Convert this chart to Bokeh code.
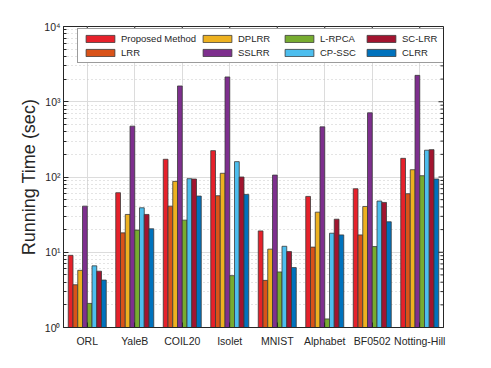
import math
from bokeh.plotting import figure
from bokeh.models import (ColumnDataSource, FactorRange, Legend, LegendItem, FixedTicker)
from bokeh.transform import dodge
from bokeh.embed import file_html
from bokeh.resources import INLINE

categories = ["ORL", "YaleB", "COIL20", "Isolet", "MNIST", "Alphabet", "BF0502", "Notting-Hill"]
methods = ["Proposed Method", "LRR", "DPLRR", "SSLRR", "L-RPCA", "CP-SSC", "SC-LRR", "CLRR"]
colors = ["#E6212B", "#D95319", "#EDB120", "#7E2F8E", "#77AC30", "#4DBEEE", "#A2142F", "#0072BD"]

proposed = [9.1, 61.8, 172, 224, 19.2, 55.2, 69.8, 177]
lrr      = [3.7, 18.1, 41, 56.4, 4.23, 11.7, 17.0, 60]
dplrr    = [5.75, 31.8, 87.5, 112, 11.0, 34.1, 40.6, 125]
sslrr    = [41, 474, 1620, 2135, 106, 464, 713, 2243]
lrpca    = [2.09, 19.7, 26.7, 4.89, 5.47, 1.3, 11.9, 104]
cpssc    = [6.6, 39, 95, 160, 12.0, 17.9, 47.9, 227]
sclrr    = [5.6, 31.8, 94, 100, 10.2, 27.5, 45.9, 231]
clrr     = [4.27, 20.5, 55.8, 58.7, 6.25, 17.0, 25.4, 94]
series = [proposed, lrr, dplrr, sslrr, lrpca, cpssc, sclrr, clrr]

yticks = [1, 10, 100, 1000, 10000]
ytick_labels = ["10\u2070", "10\u00b9", "10\u00b2", "10\u00b3", "10\u2074"]
yminor = [m * 10 ** e for e in range(0, 4) for m in range(2, 10)]

FONT = "Liberation Sans"
TXT = "#262626"

data = {"cat": categories, "bottom": [1] * len(categories)}
for i, s in enumerate(series):
    data[f"s{i}"] = s
src = ColumnDataSource(data)

p = figure(x_range=FactorRange(factors=categories), y_range=(1, 10000),
           y_axis_type="log", frame_width=380, frame_height=301,
           output_backend="svg", toolbar_location=None,
           min_border_left=63, min_border_top=26, min_border_right=28, min_border_bottom=10,
           background_fill_color="white", border_fill_color="white")
p.outline_line_color = TXT
p.outline_line_width = 1

# grids
p.xgrid.grid_line_color = "#dcdcdc"
p.xgrid.grid_line_width = 1
p.ygrid.grid_line_color = "#dcdcdc"
p.ygrid.grid_line_width = 1
p.ygrid.minor_grid_line_color = "#c8c8c8"
p.ygrid.minor_grid_line_dash = "1 3"
p.ygrid.minor_grid_line_width = 1

width = 0.1
renderers = []
for i, (m, c) in enumerate(zip(methods, colors)):
    off = (i - 3.5) * width
    r = p.vbar(x=dodge("cat", off, range=p.x_range), top=f"s{i}", bottom="bottom",
               width=width, source=src, fill_color=c, line_color="#3a3a3a", line_width=0.8)
    renderers.append(r)

ya = p.yaxis[0]
ya.ticker = FixedTicker(ticks=yticks, minor_ticks=yminor)
ya.major_label_overrides = {t: l for t, l in zip(yticks, ytick_labels)}
ya.axis_label = "Running Time (sec)"
ya.axis_label_text_font = FONT
ya.axis_label_text_font_size = "18px"
ya.axis_label_text_font_style = "normal"
ya.axis_label_text_color = TXT
ya.axis_label_standoff = 2
ya.major_label_standoff = 3
ya.major_label_text_font = FONT
ya.major_label_text_font_size = "10.5px"
ya.major_label_text_color = TXT
ya.major_tick_in = 5
ya.major_tick_out = 0
ya.minor_tick_in = 3
ya.minor_tick_out = 0
ya.axis_line_color = TXT
ya.major_tick_line_color = TXT
ya.minor_tick_line_color = TXT

xa = p.xaxis[0]
xa.major_label_text_font = FONT
xa.major_label_text_font_size = "10.5px"
xa.major_label_text_color = TXT
xa.major_tick_in = 5
xa.major_tick_out = 0
xa.axis_line_color = TXT
xa.major_tick_line_color = TXT
xa.major_label_standoff = 7

# mirrored ticks on top and right edges (MATLAB box style)
last = categories[-1]
tsrc_major = ColumnDataSource({"cat": [last] * len(yticks), "y": yticks})
tsrc_minor = ColumnDataSource({"cat": [last] * len(yminor), "y": yminor})
p.ray(x=dodge("cat", 0.5, range=p.x_range), y="y", source=tsrc_major, angle=math.pi,
      length=5, length_units="screen", line_color=TXT, line_width=1)
p.ray(x=dodge("cat", 0.5, range=p.x_range), y="y", source=tsrc_minor, angle=math.pi,
      length=3, length_units="screen", line_color=TXT, line_width=1)
top_src = ColumnDataSource({"cat": categories, "y": [yticks[-1]] * len(categories)})
p.ray(x="cat", y="y", source=top_src, angle=-math.pi / 2,
      length=5, length_units="screen", line_color=TXT, line_width=1)

legend = Legend(items=[LegendItem(label=m, renderers=[r]) for m, r in zip(methods, renderers)],
                orientation="vertical", nrows=2,
                location=(14, 264), label_text_font=FONT, label_text_font_size="9.5px",
                label_text_color=TXT, glyph_width=36, glyph_height=9,
                label_height=9, label_width=40, label_standoff=3, spacing=3, padding=4,
                border_line_color="#3a3a3a", border_line_width=1,
                background_fill_alpha=1.0, margin=0)
p.add_layout(legend, "center")

open("out.html", "w").write(file_html(p, INLINE))
